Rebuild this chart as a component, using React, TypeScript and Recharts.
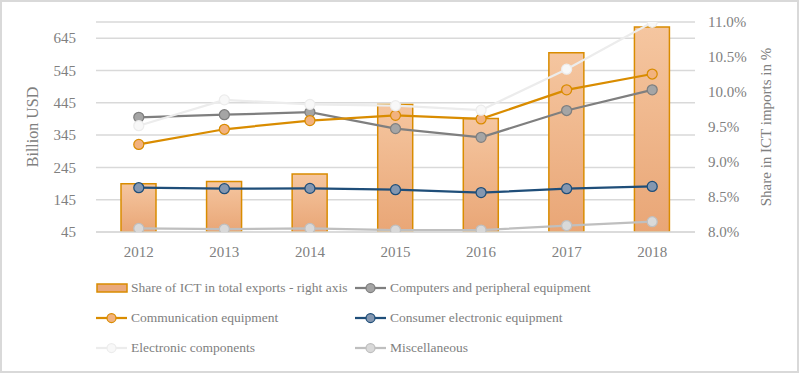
import React from 'react';
import {
  ComposedChart,
  Bar,
  Line,
  XAxis,
  YAxis,
  CartesianGrid,
} from 'recharts';

const years = ['2012', '2013', '2014', '2015', '2016', '2017', '2018'];
const ictShare = [8.69, 8.72, 8.83, 9.82, 9.62, 10.56, 10.93];
const computers = [400, 408, 416, 365, 338, 421, 485];
const communication = [316, 363, 390, 406, 395, 485, 534];
const consumer = [182, 179, 180, 176, 167, 179, 186];
const components = [374, 454, 440, 436, 422, 549, 694];
const misc = [56, 54, 56, 51, 51, 65, 77];

const leftTicks = [45, 145, 245, 345, 445, 545, 645];
const rightTicks = [8, 8.5, 9, 9.5, 10, 10.5, 11];

const FONT = 'Liberation Serif, DejaVu Serif, serif';
const TEXT = '#808080';

const lineSeries = [
  { key: 'computers', name: 'Computers and peripheral equipment', stroke: '#7f7f7f', fill: '#a5a5a5' },
  { key: 'communication', name: 'Communication equipment', stroke: '#d98c00', fill: '#f2b27e' },
  { key: 'consumer', name: 'Consumer electronic equipment', stroke: '#1f4e79', fill: '#8497b0' },
  { key: 'components', name: 'Electronic components', stroke: '#ececec', fill: '#f8f8f8' },
  { key: 'misc', name: 'Miscellaneous', stroke: '#bfbfbf', fill: '#d9d9d9' },
];

const data = years.map((year, i) => ({
  year,
  share: ictShare[i],
  computers: computers[i],
  communication: communication[i],
  consumer: consumer[i],
  components: components[i],
  misc: misc[i],
}));

// legend order as in the original: two columns
const legendItems = [
  { type: 'bar', name: 'Share of ICT in total exports - right axis' },
  { type: 'line', ...lineSeries[0] },
  { type: 'line', ...lineSeries[1] },
  { type: 'line', ...lineSeries[2] },
  { type: 'line', ...lineSeries[3] },
  { type: 'line', ...lineSeries[4] },
];

function LegendIcon({ item }: { item: any }) {
  if (item.type === 'bar') {
    return (
      <svg width={32} height={12} style={{ marginRight: 3 }}>
        <rect x={1} y={2} width={30} height={8} fill="#eaa97c" stroke="#d98c00" strokeWidth={1.5} />
      </svg>
    );
  }
  return (
    <svg width={32} height={12} style={{ marginRight: 3 }}>
      <line x1={0} y1={6} x2={31} y2={6} stroke={item.stroke} strokeWidth={2.25} />
      <circle cx={15.5} cy={6} r={4.5} fill={item.fill} stroke={item.stroke} strokeWidth={1.25} />
    </svg>
  );
}

const tickStyle = { fill: TEXT, fontSize: 15, fontFamily: FONT };

export default function App() {
  return (
    <div
      style={{
        position: 'absolute',
        left: 0,
        top: 0,
        width: 799,
        height: 373,
        boxSizing: 'border-box',
        border: '2px solid #d9d9d9',
        background: '#fff',
        fontFamily: FONT,
      }}
    >
      <div style={{ position: 'absolute', left: -2, top: -2, fontFamily: FONT }}>
        <ComposedChart
          width={799}
          height={373}
          data={data}
          margin={{ top: 22, right: 0, left: 0, bottom: 111 }}
          style={{ fontFamily: FONT }}
        >
          <defs>
            <linearGradient id="barFill" x1="0" y1="0" x2="0" y2="1">
              <stop offset="0%" stopColor="#f5c6a0" />
              <stop offset="100%" stopColor="#e9a676" />
            </linearGradient>
          </defs>
          <CartesianGrid vertical={false} stroke="#d9d9d9" strokeWidth={1.5} yAxisId="left" />
          <XAxis
            dataKey="year"
            height={30}
            tickLine={false}
            axisLine={{ stroke: '#d9d9d9', strokeWidth: 1.5 }}
            tick={tickStyle}
            tickMargin={8}
          />
          <YAxis
            yAxisId="left"
            orientation="left"
            width={96}
            domain={[45, 695]}
            ticks={leftTicks}
            allowDataOverflow
            axisLine={false}
            tickLine={false}
            tickSize={0}
            tickMargin={20}
            tick={tickStyle}
            label={{
              value: 'Billion USD',
              angle: -90,
              position: 'insideLeft',
              offset: 32,
              fill: TEXT,
              fontSize: 16,
              fontFamily: FONT,
              style: { textAnchor: 'middle', fontFamily: FONT },
            }}
          />
          <YAxis
            yAxisId="right"
            orientation="right"
            width={104}
            domain={[8, 11]}
            ticks={rightTicks}
            allowDataOverflow
            axisLine={false}
            tickLine={false}
            tickSize={0}
            tickMargin={13}
            tickFormatter={(v: number) => `${v.toFixed(1)}%`}
            tick={tickStyle}
            label={{
              value: 'Share in ICT imports in %',
              angle: -90,
              position: 'insideRight',
              offset: 33,
              fill: TEXT,
              fontSize: 15,
              fontFamily: FONT,
              style: { textAnchor: 'middle', fontFamily: FONT },
            }}
          />
          <Bar
            yAxisId="right"
            dataKey="share"
            name="Share of ICT in total exports - right axis"
            barSize={35}
            fill="url(#barFill)"
            stroke="#d98c00"
            strokeWidth={1.5}
            isAnimationActive={false}
          />
          {lineSeries.map((s) => (
            <Line
              key={s.key}
              yAxisId="left"
              type="linear"
              dataKey={s.key}
              name={s.name}
              stroke={s.stroke}
              strokeWidth={2.25}
              dot={{ r: 5, fill: s.fill, stroke: s.stroke, strokeWidth: 1.25 }}
              activeDot={false}
              isAnimationActive={false}
            />
          ))}
        </ComposedChart>
      </div>
      <div
        style={{
          position: 'absolute',
          left: 94,
          top: 276,
          display: 'grid',
          gridTemplateColumns: '259px 320px',
          rowGap: 10,
          fontSize: 13.5,
          color: TEXT,
          lineHeight: '20px',
        }}
      >
        {legendItems.map((item) => (
          <div key={item.name} style={{ display: 'flex', alignItems: 'center', whiteSpace: 'nowrap' }}>
            <LegendIcon item={item} />
            <span>{item.name}</span>
          </div>
        ))}
      </div>
    </div>
  );
}
